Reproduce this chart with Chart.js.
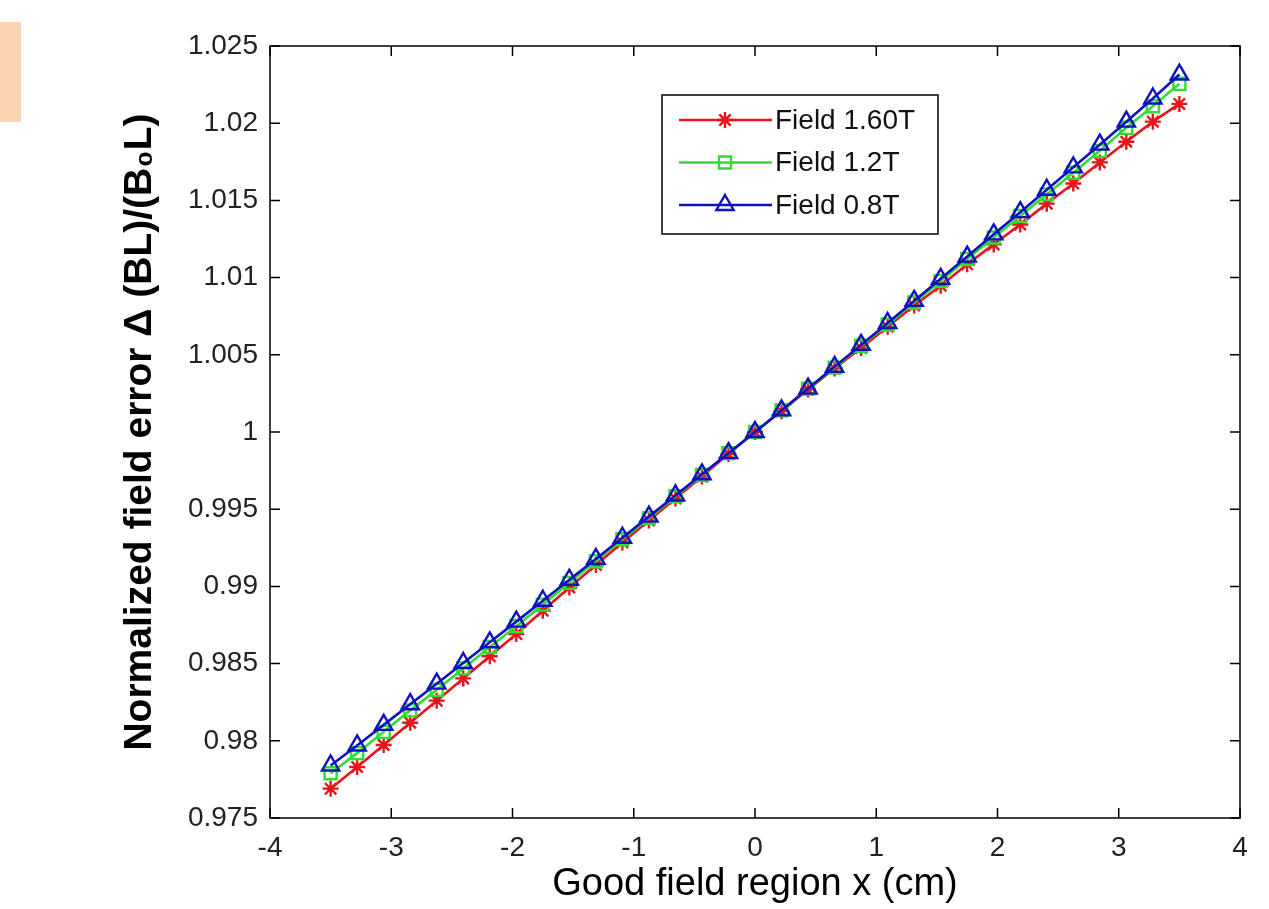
<!DOCTYPE html>
<html>
<head>
<meta charset="utf-8">
<script src="https://cdn.jsdelivr.net/npm/chart.js"></script>
<style>
  body { margin: 0; background: #fff; }
  #wrap { position: relative; width: 1269px; height: 909px; }
  #tab { position: absolute; left: 0; top: 22px; width: 21px; height: 100px; background: #fbd3b0; }
  #chart { position: absolute; left: 0; top: 0; }
</style>
</head>
<body>
<div id="wrap">
  <div id="tab"></div>
  <canvas id="chart" width="1269" height="909"></canvas>
</div>
<script>
// normalized integrated field vs position, three excitation levels

const xpos = [-3.5, -3.28125, -3.0625, -2.84375, -2.625, -2.40625, -2.1875, -1.96875, -1.75, -1.53125, -1.3125, -1.09375,
  -0.875, -0.65625, -0.4375, -0.21875, 0, 0.21875, 0.4375, 0.65625, 0.875, 1.09375, 1.3125, 1.53125,
  1.75, 1.96875, 2.1875, 2.40625, 2.625, 2.84375, 3.0625, 3.28125, 3.5];

const field160 = [0.97690, 0.97830, 0.97973, 0.98117, 0.98260, 0.98404, 0.98548, 0.98692, 0.98842, 0.98993, 0.99138, 0.99285,
  0.99427, 0.99569, 0.99711, 0.99858, 1.00000, 1.00135, 1.00276, 1.00412, 1.00544, 1.00681, 1.00819, 1.00947,
  1.01086, 1.01215, 1.01344, 1.01479, 1.01609, 1.01746, 1.01880, 1.02010, 1.02125];

const field12 = [0.97790, 0.97920, 0.98058, 0.98197, 0.98330, 0.98469, 0.98608, 0.98742, 0.98882, 0.99023, 0.99163, 0.99305,
  0.99442, 0.99584, 0.99721, 0.99863, 1.00000, 1.00140, 1.00281, 1.00417, 1.00559, 1.00696, 1.00839, 1.00977,
  1.01121, 1.01260, 1.01399, 1.01539, 1.01679, 1.01821, 1.01970, 1.02110, 1.02255];

const field08 = [0.97840, 0.97970, 0.98103, 0.98237, 0.98370, 0.98504, 0.98638, 0.98772, 0.98907, 0.99043, 0.99178, 0.99315,
  0.99452, 0.99589, 0.99726, 0.99863, 1.00000, 1.00140, 1.00281, 1.00422, 1.00564, 1.00706, 1.00849, 1.00992,
  1.01136, 1.01280, 1.01424, 1.01569, 1.01714, 1.01861, 1.02010, 1.02160, 1.02315];

const labels = ['Field 1.60T', 'Field 1.2T', 'Field 0.8T'];
const xticks = [-4, -3, -2, -1, 0, 1, 2, 3, 4];
const yticks = [0.975, 0.98, 0.985, 0.99, 0.995, 1, 1.005, 1.01, 1.015, 1.02, 1.025];

const FONT = 'Liberation Sans, Arial, sans-serif';

function pts(ys) {
  return xpos.map((x, i) => ({x: x, y: ys[i]}));
}

function fmtY(v) {
  return String(Number(v.toFixed(3)));
}

// matlab style box with inward ticks on all four sides
const boxTicks = {
  id: 'boxTicks',
  afterDraw(chart) {
    const ctx = chart.ctx;
    const a = chart.chartArea;
    const xs = chart.scales.x, ys = chart.scales.y;
    const len = 10;
    ctx.save();
    ctx.strokeStyle = '#000';
    ctx.lineWidth = 1.5;
    ctx.strokeRect(a.left, a.top, a.right - a.left, a.bottom - a.top);
    ctx.beginPath();
    xticks.forEach(v => {
      const p = xs.getPixelForValue(v);
      ctx.moveTo(p, a.bottom); ctx.lineTo(p, a.bottom - len);
      ctx.moveTo(p, a.top); ctx.lineTo(p, a.top + len);
    });
    yticks.forEach(v => {
      const p = ys.getPixelForValue(v);
      ctx.moveTo(a.left, p); ctx.lineTo(a.left + len, p);
      ctx.moveTo(a.right, p); ctx.lineTo(a.right - len, p);
    });
    ctx.stroke();
    ctx.restore();
  }
};

// legend with line + marker samples like the matlab one
const lineLegend = {
  id: 'lineLegend',
  afterDraw(chart) {
    const ctx = chart.ctx;
    const bx = 662, by = 95, bw = 276, bh = 139;
    ctx.save();
    ctx.fillStyle = '#fff';
    ctx.fillRect(bx, by, bw, bh);
    ctx.strokeStyle = '#000';
    ctx.lineWidth = 1.5;
    ctx.strokeRect(bx, by, bw, bh);
    chart.data.datasets.forEach((ds, i) => {
      const y = 120 + i * 42.5;
      ctx.strokeStyle = ds.borderColor;
      ctx.lineWidth = ds.borderWidth;
      ctx.beginPath();
      ctx.moveTo(679, y); ctx.lineTo(772, y);
      ctx.stroke();
      ctx.fillStyle = 'rgba(0,0,0,0)';
      ctx.lineWidth = ds.pointBorderWidth;
      Chart.helpers.drawPoint(ctx, {
        pointStyle: ds.pointStyle, radius: ds.pointRadius, borderWidth: ds.pointBorderWidth, rotation: 0
      }, 725, y);
      ctx.fillStyle = '#111';
      ctx.font = '28px ' + FONT;
      ctx.textBaseline = 'middle';
      ctx.textAlign = 'left';
      ctx.fillText(ds.label, 775, y + 1);
    });
    ctx.restore();
  }
};

function series(label, ys, color, style, r, order) {
  return {
    label: label,
    data: pts(ys),
    showLine: true,
    borderColor: color,
    backgroundColor: 'rgba(0,0,0,0)',
    borderWidth: 2.6,
    pointStyle: style,
    pointRadius: r,
    pointBorderWidth: 2.4,
    pointBorderColor: color,
    pointBackgroundColor: 'rgba(0,0,0,0)',
    order: order
  };
}

chartIt();

function chartIt() {
  const ctx = document.getElementById('chart').getContext('2d');
  new Chart(ctx, {
    type: 'scatter',
    data: {
      datasets: [
        series(labels[0], field160, '#e8141c', 'star', 8, 3),
        series(labels[1], field12, '#30dd30', 'rect', 8.5, 2),
        series(labels[2], field08, '#1010c0', 'triangle', 10, 1)
      ]
    },
    options: {
      responsive: false,
      animation: false,
      devicePixelRatio: 1,
      layout: { padding: { top: 46, right: 29, left: 0, bottom: 0 } },
      plugins: { legend: { display: false }, tooltip: { enabled: false } },
      scales: {
        x: {
          type: 'linear',
          min: -4, max: 4,
          afterFit: s => { s.height = 91; },
          afterBuildTicks: s => { s.ticks = xticks.map(v => ({value: v})); },
          grid: { display: false, drawTicks: false },
          border: { display: false },
          ticks: { padding: 13, color: '#222', font: { family: FONT, size: 28 } },
          title: {
            display: true,
            text: 'Good field region x (cm)',
            color: '#000',
            font: { family: FONT, size: 38 },
            padding: { top: 0, bottom: 2 }
          }
        },
        y: {
          type: 'linear',
          min: 0.975, max: 1.025,
          afterFit: s => { s.width = 270; },
          afterBuildTicks: s => { s.ticks = yticks.map(v => ({value: v})); },
          grid: { display: false, drawTicks: false },
          border: { display: false },
          ticks: { padding: 12, color: '#222', font: { family: FONT, size: 28 }, callback: v => fmtY(v) },
          title: {
            display: true,
            text: 'Normalized field error \u0394 (BL)/(B\u2080L)',
            color: '#000',
            font: { family: FONT, size: 39, weight: 'bold' },
            padding: { top: 117, bottom: 0 }
          }
        }
      }
    },
    plugins: [boxTicks, lineLegend]
  });
}
</script>
</body>
</html>
